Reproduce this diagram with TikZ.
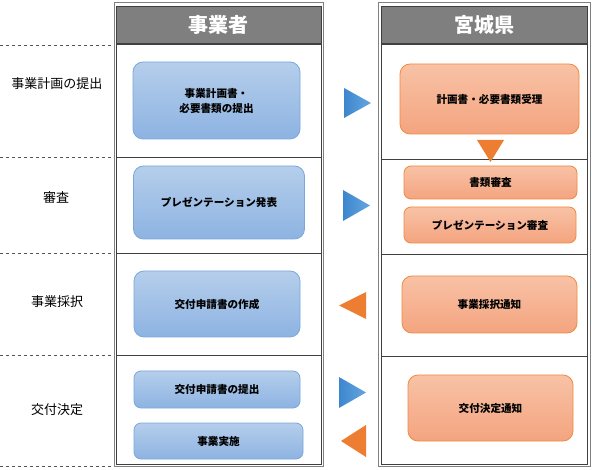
\documentclass[tikz,border=0pt]{standalone}
\usepackage{fontspec}
\setmainfont{Noto Sans CJK JP}
\definecolor{hdrfill}{HTML}{7F7F7F}
\definecolor{framec}{HTML}{404040}
\definecolor{bluetop}{HTML}{B5CEEB}
\definecolor{bluebot}{HTML}{8DB3E2}
\definecolor{blueline}{HTML}{7BA7DA}
\definecolor{orgtop}{HTML}{F8C2A6}
\definecolor{orgbot}{HTML}{F4A47F}
\definecolor{orgline}{HTML}{EF8A3E}
\definecolor{triblueA}{HTML}{3D86CE}
\definecolor{triblueB}{HTML}{65A6E0}
\definecolor{triorg}{HTML}{ED7D31}
\definecolor{dashc}{HTML}{555555}
\begin{document}
\begin{tikzpicture}[x=1pt,y=-1pt,
  bbox/.style={draw=blueline, line width=0.8pt, rounded corners=10pt, top color=bluetop, bottom color=bluebot,
    font=\bfseries\fontsize{10.6}{15}\selectfont, align=center, inner sep=0pt},
  obox/.style={draw=orgline, line width=0.8pt, rounded corners=10pt, top color=orgtop, bottom color=orgbot,
    font=\bfseries\fontsize{10.6}{15}\selectfont, align=center, inner sep=0pt},
  hdr/.style={draw=framec, fill=hdrfill, text=white, font=\bfseries\fontsize{20}{22}\selectfont, inner sep=0pt},
  phase/.style={font=\fontsize{13}{15}\selectfont, inner sep=0pt},
  sep/.style={dashc, dashed, line width=0.6pt},
  rowline/.style={framec, line width=0.8pt},
]
\useasboundingbox (0,0) rectangle (592,470);
% dashed phase separators
\foreach \yy in {45,157,253,355,466}
  \draw[sep] (0,\yy) -- (114,\yy);
% left lane frame
\draw[gray, line width=0.8pt] (114,2) rectangle (323,466);
\node[hdr, minimum width=205pt, minimum height=38pt] (h1) at (218.5,25) {事業者};
\draw[framec, line width=1pt] (116,44) rectangle (321,464);
\draw[rowline] (116,157) -- (321,157);
\draw[rowline] (116,253) -- (321,253);
\draw[rowline] (116,355) -- (321,355);
% right lane frame
\draw[gray, line width=0.8pt] (378,2) rectangle (590,466);
\node[hdr, minimum width=206pt, minimum height=38pt] (h2) at (484,25) {宮城県};
\draw[framec, line width=1pt] (381,44) rectangle (587,464);
\draw[rowline] (381,159) -- (587,159);
\draw[rowline] (381,254) -- (587,254);
\draw[rowline] (381,356) -- (587,356);
% phase labels
\node[phase] (p1) at (57,84) {事業計画の提出};
\node[phase] (p2) at (56,198) {審査};
\node[phase] (p3) at (57,302) {事業採択};
\node[phase] (p4) at (57,410) {交付決定};
% business boxes
\node[bbox, minimum width=167pt, minimum height=77pt] (b1) at (216.5,100.5) {事業計画書・\\必要書類の提出};
\node[bbox, minimum width=171pt, minimum height=73pt] (b2) at (219,202.5) {プレゼンテーション発表};
\node[bbox, minimum width=166pt, minimum height=66pt] (b3) at (217,304) {交付申請書の作成};
\node[bbox, minimum width=166pt, minimum height=37pt, rounded corners=7pt] (b4) at (217,389.5) {交付申請書の提出};
\node[bbox, minimum width=169pt, minimum height=36pt, rounded corners=7pt] (b5) at (218.5,441) {事業実施};
% prefecture boxes
\node[obox, minimum width=179pt, minimum height=70pt] (o1) at (489.5,99) {計画書・必要書類受理};
\node[obox, minimum width=173pt, minimum height=33pt, rounded corners=7pt] (o2) at (490.5,182.5) {書類審査};
\node[obox, minimum width=172pt, minimum height=36pt, rounded corners=7pt] (o3) at (490,225) {プレゼンテーション審査};
\node[obox, minimum width=175pt, minimum height=57pt] (o4) at (489.5,304.5) {事業採択通知};
\node[obox, minimum width=165pt, minimum height=66pt] (o5) at (490.5,408) {交付決定通知};
% flow triangles
\shade[left color=triblueA, right color=triblueB] (344,88) -- (371,103) -- (344,118) -- cycle;
\shade[left color=triblueA, right color=triblueB] (343,190) -- (370,205.5) -- (343,221) -- cycle;
\fill[triorg] (366,292) -- (339,305.5) -- (366,319) -- cycle;
\shade[left color=triblueA, right color=triblueB] (339,377) -- (366,392.5) -- (339,408) -- cycle;
\fill[triorg] (366,425) -- (341,441) -- (366,457) -- cycle;
\fill[triorg] (477,140) -- (504,140) -- (490.5,162) -- cycle;
\end{tikzpicture}
\end{document}
